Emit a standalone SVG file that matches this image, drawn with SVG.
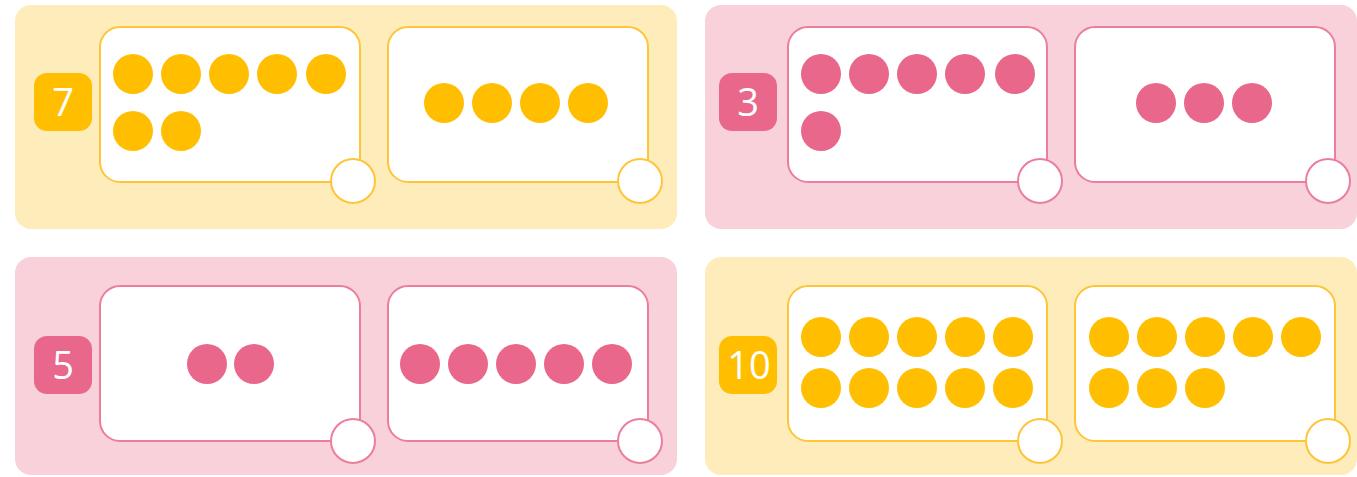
<svg xmlns="http://www.w3.org/2000/svg" width="1357" height="477" viewBox="0 0 1357 477">
<style>
.bgY{fill:#FEECBA}
.bgP{fill:#F9D1DA}
.boxY{fill:#fff;stroke:#FFC53A;stroke-width:2}
.boxP{fill:#fff;stroke:#EC7E9D;stroke-width:2}
.dY{fill:#FFBF00}
.dP{fill:#E8678A}
.badY{fill:#FFBF00}
.badP{fill:#E8678A}
.num{fill:#fff;font-family:"Open Sans","Liberation Sans",sans-serif;font-size:38px;text-anchor:middle}
</style>
<rect width="1357" height="477" fill="#fff"/>

<g id="panel-7">
<rect class="bgY" x="15" y="5" width="662" height="224" rx="16"/>
<rect class="badY" x="34" y="73" width="58" height="58" rx="13"/>
<text class="num" x="63" y="116">7</text>
<rect class="boxY" x="100" y="27" width="260" height="155" rx="20"/>
<circle class="boxY" cx="353" cy="181" r="22"/>
<g class="dY">
<circle cx="133" cy="74" r="20"/><circle cx="181" cy="74" r="20"/><circle cx="229" cy="74" r="20"/><circle cx="277" cy="74" r="20"/><circle cx="326" cy="74" r="20"/>
<circle cx="133" cy="131" r="20"/><circle cx="181" cy="131" r="20"/>
</g>
<rect class="boxY" x="388" y="27" width="260" height="155" rx="20"/>
<circle class="boxY" cx="640" cy="181" r="22"/>
<g class="dY">
<circle cx="444" cy="103" r="20"/><circle cx="492" cy="103" r="20"/><circle cx="540" cy="103" r="20"/><circle cx="588" cy="103" r="20"/>
</g>
</g>

<g id="panel-3">
<rect class="bgP" x="705" y="5" width="652" height="224" rx="16"/>
<rect class="badP" x="719" y="73" width="58" height="58" rx="13"/>
<text class="num" x="748" y="116">3</text>
<rect class="boxP" x="788" y="27" width="259" height="155" rx="20"/>
<circle class="boxP" cx="1040" cy="181" r="22"/>
<g class="dP">
<circle cx="821" cy="74" r="20"/><circle cx="869" cy="74" r="20"/><circle cx="917" cy="74" r="20"/><circle cx="965" cy="74" r="20"/><circle cx="1015" cy="74" r="20"/>
<circle cx="821" cy="131" r="20"/>
</g>
<rect class="boxP" x="1075" y="27" width="260" height="155" rx="20"/>
<circle class="boxP" cx="1328" cy="181" r="22"/>
<g class="dP">
<circle cx="1156" cy="103" r="20"/><circle cx="1204" cy="103" r="20"/><circle cx="1252" cy="103" r="20"/>
</g>
</g>

<g id="panel-5">
<rect class="bgP" x="15" y="257" width="662" height="218" rx="16"/>
<rect class="badP" x="34" y="336" width="58" height="58" rx="13"/>
<text class="num" x="63" y="379">5</text>
<rect class="boxP" x="100" y="286" width="260" height="155" rx="20"/>
<circle class="boxP" cx="353" cy="441" r="22"/>
<g class="dP">
<circle cx="207" cy="364" r="20"/><circle cx="254" cy="364" r="20"/>
</g>
<rect class="boxP" x="388" y="286" width="260" height="155" rx="20"/>
<circle class="boxP" cx="640" cy="441" r="22"/>
<g class="dP">
<circle cx="420" cy="364" r="20"/><circle cx="468" cy="364" r="20"/><circle cx="516" cy="364" r="20"/><circle cx="564" cy="364" r="20"/><circle cx="612" cy="364" r="20"/>
</g>
</g>

<g id="panel-10">
<rect class="bgY" x="705" y="257" width="652" height="218" rx="16"/>
<rect class="badY" x="719" y="336" width="58" height="58" rx="13"/>
<text class="num" x="749" y="379">10</text>
<rect class="boxY" x="788" y="286" width="259" height="155" rx="20"/>
<circle class="boxY" cx="1040" cy="441" r="22"/>
<g class="dY">
<circle cx="821" cy="337" r="20"/><circle cx="869" cy="337" r="20"/><circle cx="917" cy="337" r="20"/><circle cx="965" cy="337" r="20"/><circle cx="1013" cy="337" r="20"/>
<circle cx="821" cy="388" r="20"/><circle cx="869" cy="388" r="20"/><circle cx="917" cy="388" r="20"/><circle cx="965" cy="388" r="20"/><circle cx="1013" cy="388" r="20"/>
</g>
<rect class="boxY" x="1075" y="286" width="260" height="155" rx="20"/>
<circle class="boxY" cx="1328" cy="441" r="22"/>
<g class="dY">
<circle cx="1109" cy="337" r="20"/><circle cx="1157" cy="337" r="20"/><circle cx="1205" cy="337" r="20"/><circle cx="1253" cy="337" r="20"/><circle cx="1301" cy="337" r="20"/>
<circle cx="1109" cy="388" r="20"/><circle cx="1157" cy="388" r="20"/><circle cx="1205" cy="388" r="20"/>
</g>
</g>

<g id="connectors"></g>
</svg>
